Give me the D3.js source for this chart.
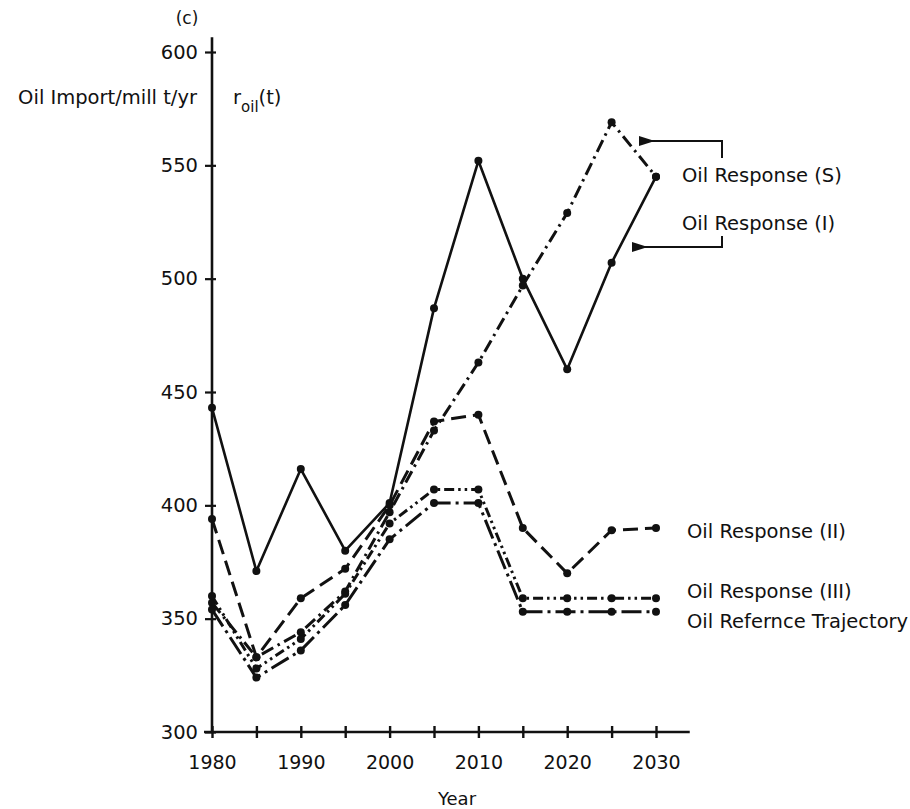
<!DOCTYPE html>
<html>
<head>
<meta charset="utf-8">
<style>
body { margin:0; background:#fff; }
text { font-family:"DejaVu Sans", sans-serif; fill:#111; }
</style>
</head>
<body>
<svg id="chart" width="910" height="809"></svg>

<script src="https://cdn.jsdelivr.net/npm/d3@7"></script>
<script>

// years on the x axis, one point every 5 years
var years = [1980,1985,1990,1995,2000,2005,2010,2015,2020,2025,2030];
var decadeLabels = [1980,1990,2000,2010,2020,2030];
var yTicks = [300,350,400,450,500,550,600];

// oil import, mill t/yr
var oilI   = [443,371,416,380,401,487,552,500,460,507,545];
var oilS   = [357,333,344,362,397,433,463,497,529,569,545];
var oilII  = [394,333,359,372,400,437,440,390,370,389,390];
var oilIII = [360,328,341,361,392,407,407,359,359,359,359];
var oilRef = [354,324,336,356,385,401,401,353,353,353,353];

var seriesNames = ["Oil Response (I)","Oil Response (S)","Oil Response (II)","Oil Response (III)","Oil Refernce Trajectory"];

var svg = d3.select("#chart");

var x = d3.scaleLinear().domain([1980,2030]).range([212,656]);
var y = d3.scaleLinear().domain([300,600]).range([732,52]);

var ink = "#111";

// y axis
var yAxis = d3.axisLeft(y).tickValues(yTicks).tickSize(7).tickPadding(8).tickFormat(d3.format("d"));
var gy = svg.append("g").attr("transform","translate(" + x(1980) + ",0)").call(yAxis);
gy.select(".domain").remove();
gy.selectAll(".tick line").attr("stroke",ink).attr("stroke-width",2.2).attr("x2",-7).attr("x1",4);
gy.selectAll(".tick text").attr("font-size",19.5).attr("font-family","DejaVu Sans").attr("fill",ink).attr("x",-14);
gy.append("line")
  .attr("x1",0).attr("x2",0)
  .attr("y1",y(300)).attr("y2",y(606.5))
  .attr("stroke",ink).attr("stroke-width",2.6);

// x axis: a cross every 5 years, labels on decades
var xAxis = d3.axisBottom(x).tickValues(years).tickSize(6).tickFormat(function(d) {
  return decadeLabels.indexOf(d) >= 0 ? d : "";
});
var gx = svg.append("g").attr("transform","translate(0," + y(300) + ")").call(xAxis);
gx.select(".domain").remove();
gx.selectAll(".tick line").attr("stroke",ink).attr("stroke-width",2.4).attr("y1",-6).attr("y2",6);
gx.selectAll(".tick text").attr("font-size",19).attr("font-family","DejaVu Sans").attr("fill",ink).attr("y",24);
gx.append("line")
  .attr("x1",x(1980) - 8).attr("x2",x(2033.8))
  .attr("y1",0).attr("y2",0)
  .attr("stroke",ink).attr("stroke-width",2.4);

// lines
var seriesData = [oilI, oilS, oilII, oilIII, oilRef];
var dashes = ["none","13,5,2.5,5","15,7","10,4,2.5,4,2.5,4","20,5,3,5"];
var widths = [2.6,3,3,3,3];

var line = d3.line()
  .x(function(d,i) { return x(years[i]); })
  .y(function(d) { return y(d); });

seriesData.forEach(function(vals, k) {
  svg.append("path")
    .datum(vals)
    .attr("d", line)
    .attr("fill","none")
    .attr("stroke",ink)
    .attr("stroke-width",widths[k])
    .attr("stroke-dasharray",dashes[k])
    .attr("stroke-linejoin","round");
  svg.selectAll(".pt" + k)
    .data(vals)
    .enter().append("circle")
    .attr("class","pt" + k)
    .attr("cx",function(d,i) { return x(years[i]); })
    .attr("cy",function(d) { return y(d); })
    .attr("r",4)
    .attr("fill",ink);
});

// axis titles
svg.append("text").text("(c)").attr("x",187).attr("y",24).attr("text-anchor","middle").attr("font-size",17);
svg.append("text").text("Oil Import/mill t/yr").attr("x",197).attr("y",104).attr("text-anchor","end").attr("font-size",19.5);
var rl = svg.append("text").attr("x",233).attr("y",104).attr("font-size",19.5);
rl.append("tspan").text("r");
rl.append("tspan").text("oil").attr("font-size",15).attr("dy",8);
rl.append("tspan").text("(t)").attr("dy",-8);
svg.append("text").text("Year").attr("x",457).attr("y",805).attr("text-anchor","middle").attr("font-size",18);

// labels with arrows for S and I
var lx = 682;
svg.append("text").text(seriesNames[1]).attr("x",lx).attr("y",182).attr("font-size",19.5);
svg.append("text").text(seriesNames[0]).attr("x",lx).attr("y",230).attr("font-size",19.5);

svg.append("defs").append("marker")
  .attr("id","arr")
  .attr("viewBox","0 0 10 10")
  .attr("refX",3).attr("refY",5)
  .attr("markerWidth",8).attr("markerHeight",5)
  .attr("orient","auto-start-reverse")
  .attr("preserveAspectRatio","none")
  .append("path").attr("d","M0,5 L10,0 L10,10 Z").attr("fill",ink);

svg.append("path")
  .attr("d","M722,158 L722,141 L650,141")
  .attr("fill","none").attr("stroke",ink).attr("stroke-width",2)
  .attr("marker-end","url(#arr)");
svg.append("path")
  .attr("d","M722,236 L722,247 L643,247")
  .attr("fill","none").attr("stroke",ink).attr("stroke-width",2)
  .attr("marker-end","url(#arr)");

// labels at the line ends for II, III and reference
var endLabels = [
  {name: seriesNames[2], y: 538},
  {name: seriesNames[3], y: 598},
  {name: seriesNames[4], y: 628}
];
svg.selectAll(".endlab")
  .data(endLabels)
  .enter().append("text")
  .attr("class","endlab")
  .attr("x",687)
  .attr("y",function(d) { return d.y; })
  .attr("font-size",19.5)
  .text(function(d) { return d.name; });

</script>
</body>
</html>
